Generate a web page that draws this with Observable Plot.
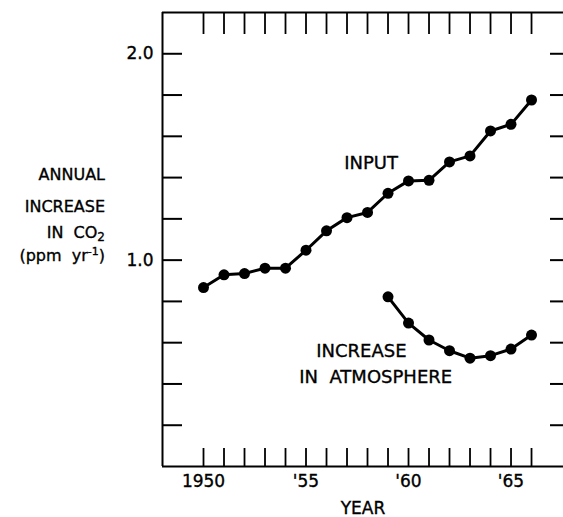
<!DOCTYPE html>
<html>
<head>
<meta charset="utf-8">
<script src="https://cdn.jsdelivr.net/npm/d3@7"></script>
<script src="https://cdn.jsdelivr.net/npm/@observablehq/plot@0.6"></script>
<style>
  body { margin: 0; background: #fff; }
  #chart { width: 563px; height: 517px; }
  #chart svg text { stroke: black; stroke-width: 0.35px; }
</style>
</head>
<body>
<div id="chart"></div>
<script>
// ---- data ----
const inputYears = [1950,1951,1952,1953,1954,1955,1956,1957,1958,1959,1960,1961,1962,1963,1964,1965,1966];
const inputValues = [0.867,0.929,0.935,0.961,0.961,1.048,1.142,1.206,1.231,1.324,1.384,1.387,1.476,1.505,1.626,1.658,1.776];
const atmosYears = [1959,1960,1961,1962,1963,1964,1965,1966];
const atmosValues = [0.822,0.695,0.613,0.561,0.525,0.537,0.569,0.637];
const yTicks = [0.2,0.4,0.6,0.8,1.0,1.2,1.4,1.6,1.8,2.0];
const yLabelTicks = [1.0, 2.0];
const xTicks = [1950,1951,1952,1953,1954,1955,1956,1957,1958,1959,1960,1961,1962,1963,1964,1965,1966];
const xLabelTicks = [1950, 1955, 1960, 1965];
const xTickLabels = ["1950", "'55", "'60", "'65"];
const seriesNames = ["INPUT", "INCREASE", "IN  ATMOSPHERE"];

const inputData = inputYears.map((year, i) => ({year, value: inputValues[i]}));
const atmosData = atmosYears.map((year, i) => ({year, value: atmosValues[i]}));

const font = "DejaVu Sans";

const plot = Plot.plot({
  width: 563,
  height: 517,
  marginLeft: 162,
  marginRight: 0,
  marginTop: 12,
  marginBottom: 51,
  x: {domain: [1948, 1967.56]},
  y: {domain: [0, 2.2]},
  style: {fontFamily: font, fontSize: "17px", color: "black", background: "white"},
  marks: [
    Plot.ruleX([1948], {strokeWidth: 2}),
    Plot.ruleY([0], {strokeWidth: 2}),
    Plot.ruleY([2.2], {strokeWidth: 2}),
    Plot.axisY(yTicks, {anchor: "left", tickSize: 20, insetLeft: 20, fill: "none", strokeWidth: 2, label: null}),
    Plot.axisY(yTicks, {anchor: "right", tickSize: 14, insetRight: 14, fill: "none", strokeWidth: 2, label: null}),
    Plot.axisY(yLabelTicks, {anchor: "left", tickSize: 0, tickPadding: 9, tickFormat: d3.format(".1f"), label: null, fontSize: 17}),
    Plot.axisX(xTicks, {anchor: "bottom", tickSize: 18, insetBottom: 18, fill: "none", strokeWidth: 1.8, label: null}),
    Plot.axisX(xTicks, {anchor: "top", tickSize: 21, insetTop: 21, fill: "none", strokeWidth: 1.8, label: null}),
    Plot.axisX(xLabelTicks, {
      anchor: "bottom", tickSize: 0, tickPadding: 8,
      tickFormat: (d) => xTickLabels[xLabelTicks.indexOf(d)],
      label: "YEAR", labelAnchor: "center", labelOffset: 47, labelArrow: "none", fontSize: 17
    }),
    Plot.line(inputData, {x: "year", y: "value", strokeWidth: 3, stroke: "black"}),
    Plot.dot(inputData, {x: "year", y: "value", r: 5.5, fill: "black"}),
    Plot.line(atmosData, {x: "year", y: "value", strokeWidth: 3, stroke: "black"}),
    Plot.dot(atmosData, {x: "year", y: "value", r: 5.5, fill: "black"}),
    Plot.text([seriesNames[0]], {x: 1956.86, y: 1.442, text: (d) => d, textAnchor: "start", lineAnchor: "bottom", fontSize: 18, style: {letterSpacing: "1px"}}),
    Plot.text([seriesNames[1]], {x: 1955.5, y: 0.532, text: (d) => d, textAnchor: "start", lineAnchor: "bottom", fontSize: 18}),
    Plot.text([seriesNames[2]], {x: 1954.67, y: 0.406, text: (d) => d, textAnchor: "start", lineAnchor: "bottom", fontSize: 18})
  ]
});

document.getElementById("chart").appendChild(plot);

// y-axis title with subscript / superscript
const svg = d3.select(plot);
const g = svg.append("g").attr("font-family", font).attr("font-size", 16).attr("text-anchor", "end").attr("fill", "black");
g.append("text").attr("x", 105).attr("y", 180).text("ANNUAL");
g.append("text").attr("x", 105).attr("y", 212).text("INCREASE");
const t3 = g.append("text").attr("x", 105).attr("y", 238).attr("xml:space", "preserve");
t3.append("tspan").text("IN  CO");
t3.append("tspan").attr("dy", 3).attr("font-size", 12).text("2");
const t4 = g.append("text").attr("x", 105).attr("y", 261).attr("xml:space", "preserve");
t4.append("tspan").text("(ppm  yr");
t4.append("tspan").attr("dy", -6).attr("font-size", 11).text("-1");
t4.append("tspan").attr("dy", 6).text(")");
</script>
</body>
</html>
